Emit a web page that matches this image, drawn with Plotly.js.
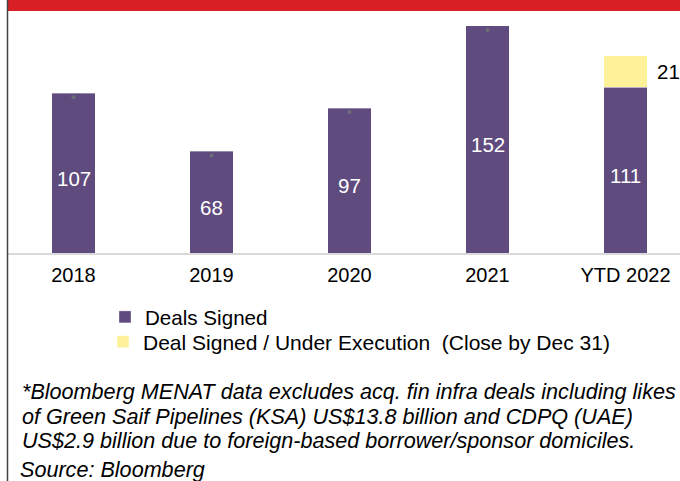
<!DOCTYPE html>
<html>
<head>
<meta charset="utf-8">
<script src="https://cdn.plot.ly/plotly-3.0.1.min.js"></script>
<style>
html,body{margin:0;padding:0;background:#fff;}
#chart{width:680px;height:481px;}
</style>
</head>
<body>
<div id="chart"></div>
<script>
// ---- data ----
const categories = ['2018', '2019', '2020', '2021', 'YTD 2022'];
const dealsSigned = [107, 68, 97, 152, 111];
const underExecution = [0, 0, 0, 0, 21];
const seriesNames = ['Deals Signed', 'Deal Signed / Under Execution \u00a0(Close by Dec 31)'];
const footnoteLines = [
  '*Bloomberg MENAT data excludes acq. fin infra deals including likes',
  'of Green Saif Pipelines (KSA) US$13.8 billion and CDPQ (UAE)',
  'US$2.9 billion due to foreign-based borrower/sponsor domiciles.'
];
const sourceText = 'Source: Bloomberg';

// ---- styling ----
const FONT = 'Liberation Sans, Arial, Helvetica, sans-serif';
const PURPLE = '#5f4b7e';
const YELLOW = '#fdf29a';
const W = 680, H = 481;
const mL = 8, mR = 0, mT = 11, mB = 228;
const plotW = W - mL - mR, plotH = H - mT - mB;
const pxPerCat = 138;
const firstCenterPx = 73.5;
const xr0 = -(firstCenterPx - mL) / pxPerCat;
const xr1 = xr0 + plotW / pxPerCat;
const pxPerUnit = 1.494;
const yTop = plotH / pxPerUnit;

const pxToPaperY = py => (mT + plotH - py) / plotH;
const pxToPaperX = px => (px - mL) / plotW;

const traces = [
  {
    type: 'bar', name: seriesNames[0], x: categories, y: dealsSigned, legend: 'legend',
    marker: {color: PURPLE, line: {color: 'rgba(255,255,255,0.35)', width: 1}},
    textposition: 'none', hoverinfo: 'x+y'
  },
  {
    type: 'bar', name: seriesNames[1], x: categories, legend: 'legend2',
    y: underExecution.map(v => v > 0 ? v : null),
    marker: {color: YELLOW, line: {color: 'rgba(255,255,255,0.35)', width: 1}},
    textposition: 'none', hoverinfo: 'x+y'
  },
  {
    type: 'scatter', mode: 'markers', showlegend: false, hoverinfo: 'skip',
    x: categories.filter((c, i) => underExecution[i] === 0),
    y: dealsSigned.filter((v, i) => underExecution[i] === 0).map(v => v - 4 / pxPerUnit),
    marker: {color: '#6e6e78', size: 4}
  }
];

const annotations = [];
// value labels inside the purple bars (x given as category index)
categories.forEach((c, i) => {
  annotations.push({
    x: i, y: dealsSigned[i] / 2, xref: 'x', yref: 'y',
    text: String(dealsSigned[i]), showarrow: false,
    xanchor: 'center', yanchor: 'middle', yshift: -5,
    font: {family: FONT, size: 20.5, color: '#ffffff'}
  });
});
// label beside the yellow segment
categories.forEach((c, i) => {
  if (underExecution[i] > 0) {
    annotations.push({
      x: i, y: dealsSigned[i] + underExecution[i] / 2,
      xref: 'x', yref: 'y', text: String(underExecution[i]), showarrow: false,
      xanchor: 'left', yanchor: 'middle', xshift: 29,
      font: {family: FONT, size: 20.5, color: '#000000'}
    });
  }
});
const footY = [391, 416, 440];
footnoteLines.forEach((s, k) => {
  annotations.push({
    xref: 'paper', yref: 'paper', x: pxToPaperX(20), y: pxToPaperY(footY[k]),
    xanchor: 'left', yanchor: 'middle', align: 'left', showarrow: false,
    text: '<i>' + s + '</i>',
    font: {family: FONT, size: 21.6, color: '#000000'}
  });
});
annotations.push({
  xref: 'paper', yref: 'paper', x: pxToPaperX(18), y: pxToPaperY(469),
  xanchor: 'left', yanchor: 'middle', align: 'left', showarrow: false,
  text: '<i>' + sourceText + '</i>',
  font: {family: FONT, size: 21.6, color: '#000000'}
});

const shapes = [
  {type: 'rect', xref: 'paper', yref: 'paper', x0: pxToPaperX(8), x1: 1, y0: pxToPaperY(11), y1: pxToPaperY(0),
   fillcolor: '#d91f26', line: {width: 0}, layer: 'above'},
  {type: 'line', xref: 'paper', yref: 'paper', x0: pxToPaperX(7.5), x1: pxToPaperX(7.5), y0: pxToPaperY(481), y1: pxToPaperY(0),
   line: {color: '#444444', width: 1.5}, layer: 'above'}
];

const legendBase = {
  xanchor: 'left', yanchor: 'middle', orientation: 'v',
  bgcolor: 'rgba(0,0,0,0)', borderwidth: 0
};

const layout = {
  width: W, height: H,
  margin: {l: mL, r: mR, t: mT, b: mB, pad: 0, autoexpand: false},
  paper_bgcolor: '#ffffff', plot_bgcolor: '#ffffff',
  barmode: 'stack', bargap: 0.688,
  font: {family: FONT, size: 20, color: '#000000'},
  xaxis: {
    type: 'category', range: [xr0, xr1], fixedrange: true, automargin: false,
    showline: true, linecolor: '#d9d9d9', linewidth: 1.5,
    ticks: '', showgrid: false, zeroline: false, tickangle: 0, ticklabelstandoff: 3,
    tickfont: {family: FONT, size: 20, color: '#000000'}
  },
  yaxis: {range: [0, yTop], visible: false, showgrid: false, zeroline: false, fixedrange: true},
  showlegend: true,
  legend: Object.assign({}, legendBase, {x: pxToPaperX(105), y: pxToPaperY(317),
    font: {family: FONT, size: 20.6, color: '#000000'}}),
  legend2: Object.assign({}, legendBase, {x: pxToPaperX(103), y: pxToPaperY(342),
    font: {family: FONT, size: 21, color: '#000000'}}),
  annotations: annotations,
  shapes: shapes
};

Plotly.newPlot('chart', traces, layout, {displayModeBar: false, staticPlot: true});
</script>
</body>
</html>
